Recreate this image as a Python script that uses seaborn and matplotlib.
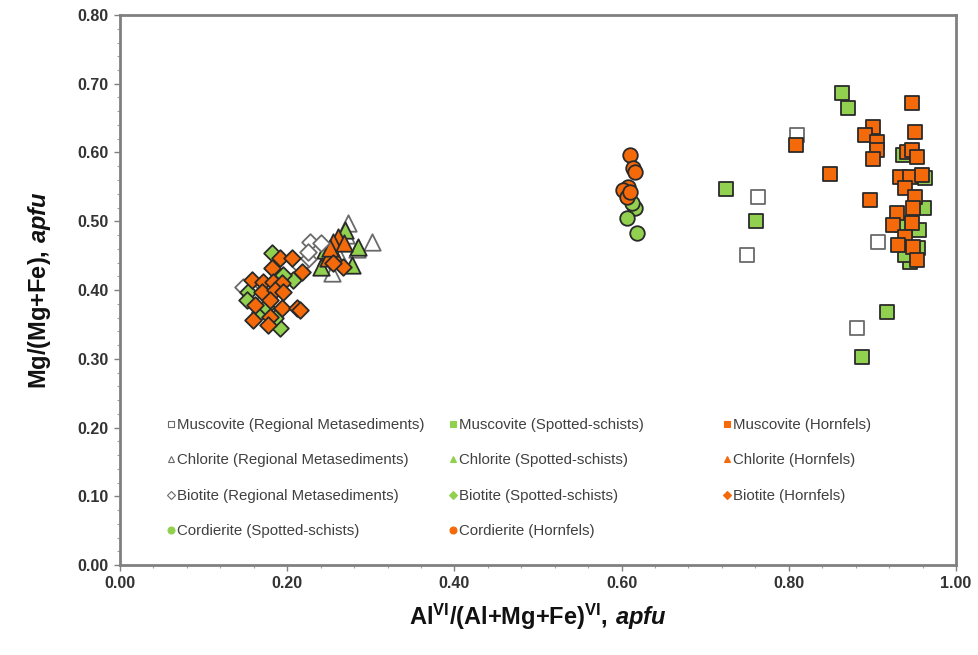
import numpy as np
import pandas as pd
import matplotlib
matplotlib.use('Agg')
import matplotlib.pyplot as plt
from matplotlib.ticker import MultipleLocator, FormatStrFormatter
import seaborn as sns

sns.set_style('white')
plt.rcParams['font.family'] = ['Liberation Sans', 'DejaVu Sans']
plt.rcParams['mathtext.fontset'] = 'custom'
plt.rcParams['mathtext.rm'] = 'Liberation Sans:bold'
plt.rcParams['mathtext.bf'] = 'Liberation Sans:bold'
plt.rcParams['mathtext.it'] = 'Liberation Sans:italic:bold'

# data
musc_rm_x = [0.810, 0.763, 0.750, 0.907, 0.882]
musc_rm_y = [0.625, 0.535, 0.451, 0.470, 0.345]

musc_ss_x = [0.864, 0.871, 0.725, 0.761, 0.918, 0.888, 0.963, 0.962, 0.956,
             0.935, 0.955, 0.945, 0.939, 0.937]
musc_ss_y = [0.687, 0.665, 0.547, 0.500, 0.368, 0.303, 0.563, 0.519, 0.487,
             0.494, 0.461, 0.441, 0.451, 0.596]

musc_h_x = [0.947, 0.951, 0.901, 0.891, 0.906, 0.905, 0.901, 0.941, 0.947, 0.953,
            0.933, 0.945, 0.959, 0.939, 0.951, 0.897, 0.949, 0.929, 0.925, 0.947,
            0.939, 0.931, 0.949, 0.953, 0.809, 0.849]
musc_h_y = [0.672, 0.630, 0.637, 0.625, 0.615, 0.604, 0.591, 0.601, 0.603, 0.594,
            0.565, 0.565, 0.567, 0.549, 0.536, 0.531, 0.519, 0.512, 0.495, 0.497,
            0.477, 0.465, 0.463, 0.444, 0.611, 0.569]

chl_rm_x = [0.273, 0.301, 0.254, 0.283, 0.262, 0.270]
chl_rm_y = [0.497, 0.470, 0.425, 0.460, 0.450, 0.480]

chl_ss_x = [0.269, 0.285, 0.247, 0.278, 0.241, 0.245]
chl_ss_y = [0.487, 0.463, 0.448, 0.436, 0.433, 0.458]

chl_h_x = [0.261, 0.255, 0.249, 0.259, 0.251, 0.268]
chl_h_y = [0.477, 0.470, 0.447, 0.444, 0.461, 0.468]

bio_rm_x = [0.147, 0.225, 0.227, 0.240, 0.225, 0.215, 0.160]
bio_rm_y = [0.405, 0.445, 0.470, 0.468, 0.455, 0.435, 0.395]

bio_ss_x = [0.182, 0.207, 0.153, 0.152, 0.167, 0.191, 0.195, 0.175, 0.185]
bio_ss_y = [0.454, 0.415, 0.397, 0.385, 0.368, 0.345, 0.422, 0.375, 0.360]

bio_h_x = [0.191, 0.206, 0.182, 0.218, 0.158, 0.171, 0.183, 0.194, 0.170, 0.185,
           0.195, 0.179, 0.161, 0.194, 0.212, 0.215, 0.179, 0.159, 0.177, 0.267, 0.255]
bio_h_y = [0.447, 0.447, 0.432, 0.426, 0.415, 0.411, 0.411, 0.410, 0.397, 0.400,
           0.397, 0.385, 0.378, 0.374, 0.374, 0.371, 0.361, 0.356, 0.349, 0.433, 0.440]

cord_ss_x = [0.616, 0.606, 0.618, 0.612]
cord_ss_y = [0.519, 0.505, 0.483, 0.526]

cord_h_x = [0.610, 0.614, 0.616, 0.608, 0.602, 0.606, 0.610]
cord_h_y = [0.596, 0.577, 0.571, 0.550, 0.545, 0.535, 0.543]

series = [
    ('Muscovite (Regional Metasediments)', musc_rm_x, musc_rm_y, 's', 'RM'),
    ('Muscovite (Spotted-schists)', musc_ss_x, musc_ss_y, 's', 'SS'),
    ('Muscovite (Hornfels)', musc_h_x, musc_h_y, 's', 'H'),
    ('Chlorite (Regional Metasediments)', chl_rm_x, chl_rm_y, '^', 'RM'),
    ('Chlorite (Spotted-schists)', chl_ss_x, chl_ss_y, '^', 'SS'),
    ('Chlorite (Hornfels)', chl_h_x, chl_h_y, '^', 'H'),
    ('Biotite (Regional Metasediments)', bio_rm_x, bio_rm_y, 'D', 'RM'),
    ('Biotite (Spotted-schists)', bio_ss_x, bio_ss_y, 'D', 'SS'),
    ('Biotite (Hornfels)', bio_h_x, bio_h_y, 'D', 'H'),
    ('Cordierite (Spotted-schists)', cord_ss_x, cord_ss_y, 'o', 'SS'),
    ('Cordierite (Hornfels)', cord_h_x, cord_h_y, 'o', 'H'),
]

face = {'RM': 'white', 'SS': '#92D050', 'H': '#F46A0A'}
edge = {'RM': '#6a6a6a', 'SS': '#2a2a2a', 'H': '#2a2a2a'}
sizes = {'s': 95, '^': 140, 'D': 72, 'o': 110}

fig = plt.figure(figsize=(9.79, 6.55), dpi=100)
ax = fig.add_axes([120 / 979, 1 - 565 / 655, 836 / 979, 550 / 655])

handles = {}
for name, xs, ys, mk, rock in series:
    df = pd.DataFrame({'x': xs, 'y': ys})
    sns.scatterplot(data=df, x='x', y='y', ax=ax, marker=mk, s=sizes[mk],
                    color=face[rock], edgecolor=edge[rock], linewidth=1.3,
                    label=name, legend=False)
    handles[name] = plt.Line2D([], [], linestyle='', marker=mk,
                               markersize=5 if mk != 'D' else 4,
                               markerfacecolor=face[rock],
                               markeredgecolor=edge[rock] if rock == 'RM' else face[rock],
                               markeredgewidth=0.8)

ax.set_xlim(0, 1)
ax.set_ylim(0, 0.8)
ax.xaxis.set_major_locator(MultipleLocator(0.2))
ax.xaxis.set_minor_locator(MultipleLocator(0.04))
ax.yaxis.set_major_locator(MultipleLocator(0.1))
ax.yaxis.set_minor_locator(MultipleLocator(0.02))
ax.xaxis.set_major_formatter(FormatStrFormatter('%.2f'))
ax.yaxis.set_major_formatter(FormatStrFormatter('%.2f'))
ax.tick_params(which='major', direction='out', length=4, width=1, color='#808080',
               labelsize=11.5, labelcolor='#333333', pad=4)
ax.tick_params(which='minor', direction='out', length=2.5, width=0.8, color='#a0a0a0')
ax.tick_params(axis='x', which='both', bottom=True)
ax.tick_params(axis='y', which='both', left=True)
for lab in ax.get_xticklabels() + ax.get_yticklabels():
    lab.set_fontweight('bold')
for sp in ax.spines.values():
    sp.set_color('#808080')
    sp.set_linewidth(2)

ax.set_xlabel(r'$\mathrm{Al^{VI}/(Al{+}Mg{+}Fe)^{VI},\,}\mathit{apfu}$',
              fontsize=17, color='#111111', labelpad=8)
ax.set_ylabel(r'$\mathrm{Mg/(Mg{+}Fe),\,}\mathit{apfu}$',
              fontsize=17, color='#111111', labelpad=18)

cols = [
    ['Muscovite (Regional Metasediments)', 'Chlorite (Regional Metasediments)',
     'Biotite (Regional Metasediments)', 'Cordierite (Spotted-schists)'],
    ['Muscovite (Spotted-schists)', 'Chlorite (Spotted-schists)',
     'Biotite (Spotted-schists)', 'Cordierite (Hornfels)'],
    ['Muscovite (Hornfels)', 'Chlorite (Hornfels)', 'Biotite (Hornfels)'],
]
col_x = [0.056, 0.394, 0.722]
for i, (names, cx) in enumerate(zip(cols, col_x)):
    leg = ax.legend([handles[n] for n in names], names, loc='upper left',
                    bbox_to_anchor=(cx, 0.267), frameon=False, fontsize=10.8,
                    labelcolor='#404040', handlelength=0.5, handletextpad=0.15,
                    labelspacing=1.42, borderpad=0, borderaxespad=0)
    if i < len(cols) - 1:
        ax.add_artist(leg)

fig.savefig('out.png', dpi=100)
